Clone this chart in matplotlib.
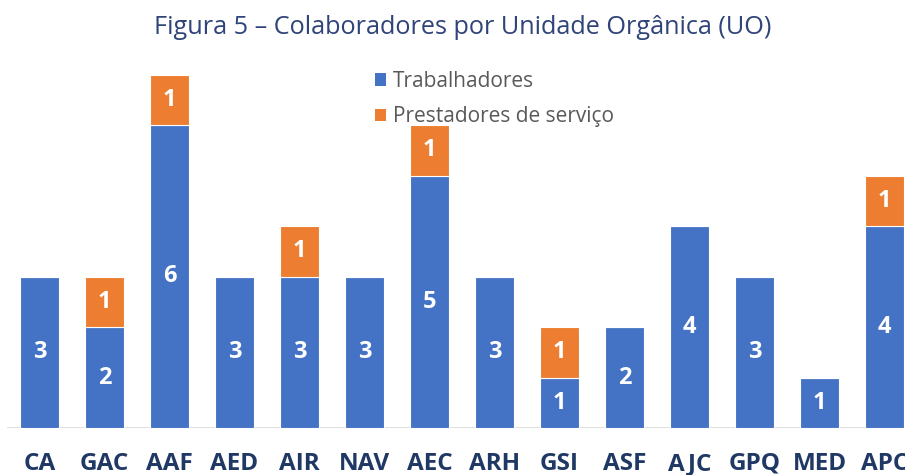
import matplotlib
matplotlib.use("Agg")
import matplotlib.pyplot as plt
from matplotlib.patches import Patch

categories = ["CA", "GAC", "AAF", "AED", "AIR", "NAV", "AEC", "ARH", "GSI", "ASF", "AJC", "GPQ", "MED", "APC"]
trabalhadores = [3, 2, 6, 3, 3, 3, 5, 3, 1, 2, 4, 3, 1, 4]
prestadores = [0, 1, 1, 0, 1, 0, 1, 0, 1, 0, 0, 0, 0, 1]
title = "Figura 5 – Colaboradores por Unidade Orgânica (UO)"
series_names = ["Trabalhadores", "Prestadores de serviço"]

BLUE = "#4472C4"
ORANGE = "#ED7D31"
FONT = ["Open Sans", "DejaVu Sans"]

W, H = 905, 475
fig = plt.figure(figsize=(W / 100, H / 100), dpi=100)
left_px, base_px, width_px, height_px = 7, 428, 910, 404
ax = fig.add_axes([left_px / W, (H - base_px) / H, width_px / W, height_px / H])
ax.set_xlim(-0.5, len(categories) - 0.5)
ax.set_ylim(0, 8)

x = list(range(len(categories)))
ax.bar(x, trabalhadores, width=0.6, color=BLUE, edgecolor="white", linewidth=0.8, zorder=2)
ax.bar(x, prestadores, width=0.6, bottom=trabalhadores, color=ORANGE, edgecolor="white", linewidth=0.8, zorder=2)

for i in x:
    t = trabalhadores[i]
    p = prestadores[i]
    if t > 0:
        ax.text(i, t / 2, str(t), ha="center", va="center", color="white",
                fontsize=17, fontweight="bold", family=FONT, zorder=3)
    if p > 0:
        ax.text(i, t + p / 2, str(p), ha="center", va="center", color="white",
                fontsize=17, fontweight="bold", family=FONT, zorder=3)

for s in ax.spines.values():
    s.set_visible(False)
ax.axhline(0, color="#D9D9D9", linewidth=1.2, zorder=1)
ax.set_yticks([])
ax.set_xticks(x)
ax.set_xticklabels(categories, fontsize=17.5, fontweight="bold", color="#203864", family=FONT)
ax.tick_params(axis="x", length=0, pad=17)

fig.text(463 / W, 1 - 28 / H, title, ha="center", va="center", fontsize=18.2,
         color="#2F4478", family=FONT)

handles = [Patch(facecolor=BLUE, edgecolor="none"), Patch(facecolor=ORANGE, edgecolor="none")]
leg = fig.legend(handles, series_names, loc="upper left", bbox_to_anchor=(375 / W, 1 - 71 / H),
                 frameon=False, handlelength=0.55, handleheight=0.55, handletextpad=0.3,
                 labelspacing=0.68, borderaxespad=0, borderpad=0,
                 prop={"family": FONT, "size": 15})
for t in leg.get_texts():
    t.set_color("#595959")

fig.savefig("out.png", dpi=100)
